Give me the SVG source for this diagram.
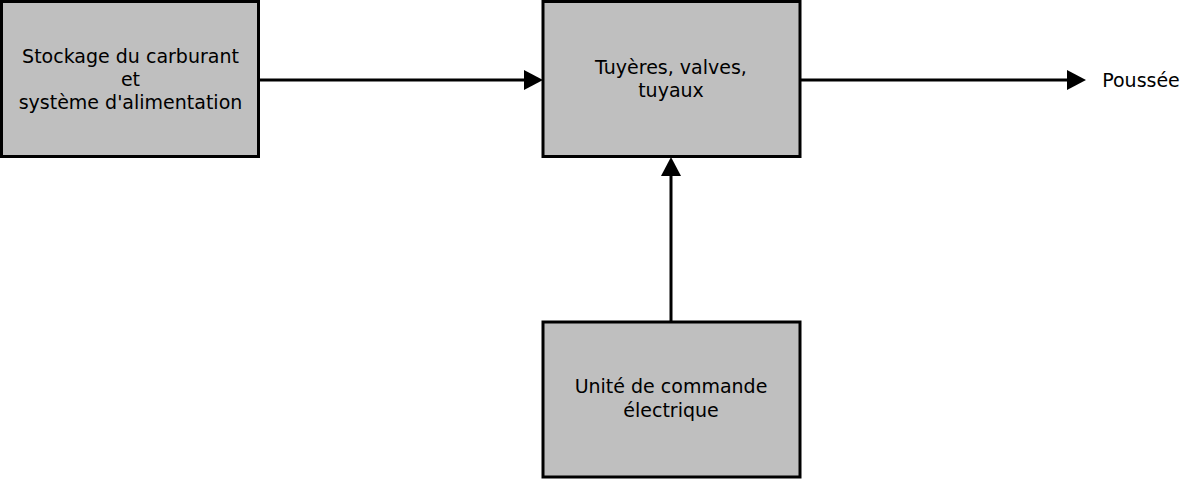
<svg xmlns="http://www.w3.org/2000/svg" width="1200" height="480" viewBox="0 0 1200 480">
<style>
.box{fill:#bfbfbf;stroke:#000;stroke-width:3}
.t{font-family:"DejaVu Sans",sans-serif;font-size:19px;fill:#000;text-anchor:middle}
.c{stroke:#000;stroke-width:3;fill:none}
.h{fill:#000}
</style>
<rect width="1200" height="480" fill="#fff"/>
<g id="connectors">
<line class="c" x1="259" y1="80" x2="526" y2="80"/>
<polygon class="h" points="543,80 524,70 524,90"/>
<line class="c" x1="800" y1="80" x2="1068" y2="80"/>
<polygon class="h" points="1086,80 1067,70 1067,90"/>
<line class="c" x1="671" y1="322" x2="671" y2="175"/>
<polygon class="h" points="671,157 661,176 681,176"/>
</g>
<g id="n1">
<rect class="box" x="1.5" y="1.5" width="257" height="155"/>
<text class="t" x="130.5" y="63">Stockage du carburant</text>
<text class="t" x="130.5" y="86">et</text>
<text class="t" x="130.5" y="109">système d'alimentation</text>
</g>
<g id="n2">
<rect class="box" x="543" y="1.5" width="257" height="155"/>
<text class="t" x="671" y="74">Tuyères, valves,</text>
<text class="t" x="671" y="97">tuyaux</text>
</g>
<g id="n3">
<rect class="box" x="543" y="322" width="257" height="155"/>
<text class="t" x="671" y="393">Unité de commande</text>
<text class="t" x="671" y="417">électrique</text>
</g>
<g id="n4">
<text class="t" x="1141" y="87">Poussée</text>
</g>
</svg>
